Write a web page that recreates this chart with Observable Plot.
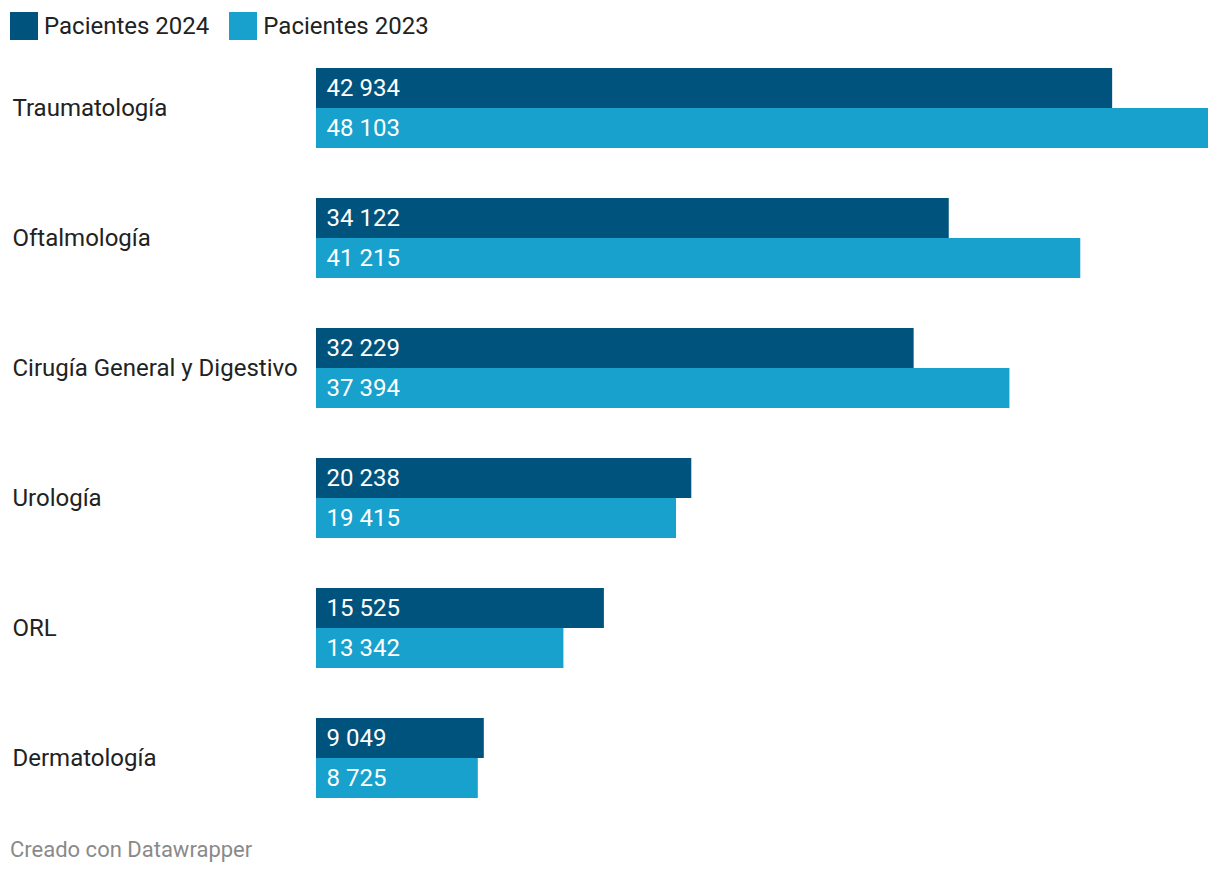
<!DOCTYPE html>
<html><head><meta charset="utf-8">
<script src="https://cdn.jsdelivr.net/npm/d3@7"></script>
<script src="https://cdn.jsdelivr.net/npm/@observablehq/plot@0.6"></script>
<style>
body{margin:0;background:#fff;font-family:Roboto,sans-serif;width:1220px;height:876px;position:relative;overflow:hidden}
#legend{position:absolute;left:10px;top:12px;display:flex;align-items:center;font-size:24px;color:#222;height:28px}
.item{display:flex;align-items:center;margin-right:20px}
.sw{width:28px;height:28px;margin-right:6px}
#chart{position:absolute;left:0;top:0}
#foot{position:absolute;left:10px;top:837px;font-size:22px;color:#8a8a8a}
</style></head><body>
<div id="legend"></div>
<div id="chart"></div>
<div id="foot">Creado con Datawrapper</div>
<script>
const categories = ["Traumatología","Oftalmología","Cirugía General y Digestivo","Urología","ORL","Dermatología"];
const series = ["Pacientes 2024","Pacientes 2023"];
const values2024 = [42934,34122,32229,20238,15525,9049];
const values2023 = [48103,41215,37394,19415,13342,8725];
const colors = ["#00537d","#18a1cd"];

const data = [];
categories.forEach((c,i)=>{
  data.push({cat:c, s:series[0], v:values2024[i]});
  data.push({cat:c, s:series[1], v:values2023[i]});
});
const fmt = d3.formatLocale({thousands:" ", grouping:[3], decimal:","}).format(",d");

const leg = document.getElementById("legend");
series.forEach((s,i)=>{
  const it=document.createElement("div");it.className="item";
  it.innerHTML=`<div class="sw" style="background:${colors[i]}"></div><span>${s}</span>`;
  leg.appendChild(it);
});

const chart = Plot.plot({
  width:1220, height:876,
  marginLeft:316, marginRight:12, marginTop:68, marginBottom:78,
  style:{fontFamily:"Roboto, sans-serif", fontSize:"24px", background:"transparent"},
  x:{domain:[0,48103], axis:null},
  fy:{domain:categories, padding:50/130, label:null},
  y:{domain:series, padding:0, axis:null},
  color:{domain:series, range:colors},
  marks:[
    Plot.barX(data,{fy:"cat", y:"s", x:"v", fill:"s", inset:0}),
    Plot.text(data,{fy:"cat", y:"s", x:0, text:d=>fmt(d.v), fill:"white", textAnchor:"start", dx:10, fontSize:24}),
    Plot.axisFy({anchor:"left", tickSize:0, tickPadding:0, textAnchor:"start", dx:-304, fontSize:24, fill:"#222", label:null})
  ]
});
document.getElementById("chart").appendChild(chart);
</script>
</body></html>
